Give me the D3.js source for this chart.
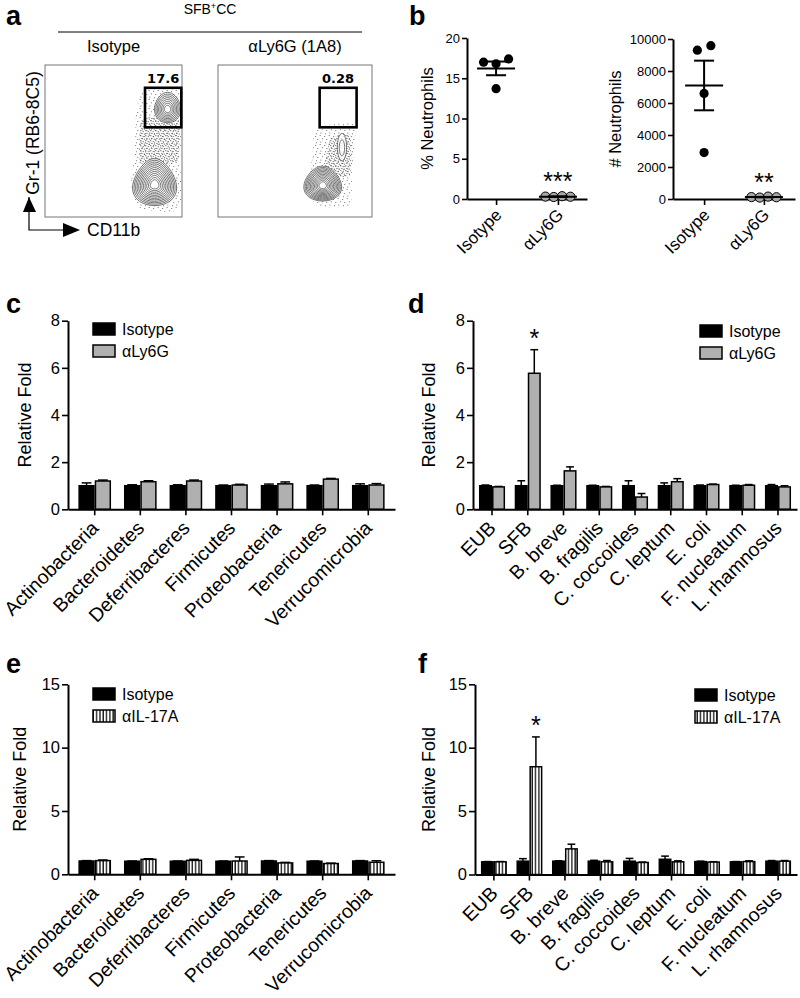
<!DOCTYPE html>
<html><head><meta charset="utf-8">
<script src="https://cdn.jsdelivr.net/npm/d3@7"></script>
<style>
body{margin:0;background:#fff}
svg{display:block}
text{font-family:"Liberation Sans",Arial,Helvetica,sans-serif;fill:#000}
</style>
</head><body>
<svg id="fig" width="800" height="998"></svg>
<script>
// ---------------- DATA ----------------
// panel a (flow cytometry, axis units 0..1)
const flowHeaders = ["Isotype", "αLy6G (1A8)"];
const flowPercents = ["17.6", "0.28"];
const isoClusters = [
  {x:0.80, y:0.23, rx:0.155, ry:0.155, taper:0.28, levels:12},
  {x:0.895, y:0.72, rx:0.095, ry:0.10, taper:0.12, levels:8}
];
const ly6gClusters = [
  {x:0.68, y:0.22, rx:0.12, ry:0.115, taper:0.22, levels:12},
  {x:0.805, y:0.46, rx:0.03, ry:0.09, taper:0, levels:2}
];
const isoScatter = [[0.693,0.803],[0.766,0.849],[0.985,0.849],[1.0,0.572],[0.985,0.375],[1.0,0.112],[0.927,0.033],[0.693,0.059],[0.628,0.21],[0.657,0.441],[0.664,0.671]];
const isoDense = [[0.708,0.638],[0.971,0.651],[0.971,0.375],[0.839,0.342],[0.693,0.362]];
const ly6gScatter = [[0.636,0.586],[0.89,0.612],[0.87,0.309],[0.857,0.079],[0.649,0.072],[0.565,0.211],[0.61,0.375]];
const ly6gDense = [[0.727,0.507],[0.857,0.539],[0.857,0.276],[0.695,0.276]];
const isoGate = [0.73, 0.995, 0.59, 0.85];
const ly6gGate = [0.66, 0.90, 0.59, 0.85];

// panel b
const bGroups = ["Isotype", "αLy6G"];
const pctIsotype = [17.0, 16.8, 17.4, 13.7];
const pctLy6G = [0.30, 0.25, 0.35, 0.28];
const numIsotype = [9300, 9580, 6600, 2900];
const numLy6G = [120, 90, 150, 110];
const pctTicks = [0, 5, 10, 15, 20];
const numTicks = [0, 2000, 4000, 6000, 8000, 10000];

// panels c-f
const phyla = ["Actinobacteria","Bacteroidetes","Deferribacteres","Firmicutes","Proteobacteria","Tenericutes","Verrucomicrobia"];
const species = ["EUB","SFB","B. breve","B. fragilis","C. coccoides","C. leptum","E. coli","F. nucleatum","L. rhamnosus"];
const foldTicks8 = [0, 2, 4, 6, 8];
const foldTicks15 = [0, 5, 10, 15];

const cIso    = [1.00, 1.00, 1.00, 1.00, 1.00, 1.00, 1.00];
const cIsoErr = [0.12, 0.04, 0.04, 0.03, 0.07, 0.03, 0.08];
const cLy6G   = [1.20, 1.17, 1.20, 1.03, 1.08, 1.28, 1.03];
const cLy6GErr= [0.04, 0.04, 0.04, 0.03, 0.08, 0.03, 0.06];

const dIso    = [1.00, 1.00, 1.00, 1.00, 1.00, 1.00, 1.00, 1.00, 1.00];
const dIsoErr = [0.03, 0.21, 0.02, 0.02, 0.21, 0.12, 0.03, 0.02, 0.05];
const dLy6G   = [0.95, 5.77, 1.63, 0.95, 0.52, 1.17, 1.05, 1.02, 0.95];
const dLy6GErr= [0.02, 1.00, 0.17, 0.02, 0.15, 0.13, 0.02, 0.03, 0.05];
const dStars  = ["SFB"];

const eIso    = [1.05, 1.03, 1.03, 1.03, 1.05, 1.03, 1.05];
const eIsoErr = [0.03, 0.02, 0.02, 0.02, 0.03, 0.02, 0.03];
const eIL17   = [1.08, 1.18, 1.10, 1.05, 0.90, 0.85, 0.95];
const eIL17Err= [0.05, 0.05, 0.08, 0.32, 0.04, 0.03, 0.12];

const fIso    = [1.00, 1.05, 1.05, 1.05, 1.05, 1.20, 1.02, 1.00, 1.05];
const fIsoErr = [0.02, 0.20, 0.03, 0.07, 0.22, 0.25, 0.03, 0.02, 0.05];
const fIL17   = [1.00, 8.50, 2.02, 1.00, 0.95, 1.00, 0.98, 1.02, 1.05];
const fIL17Err= [0.02, 2.35, 0.37, 0.10, 0.03, 0.08, 0.03, 0.06, 0.05];
const fStars  = ["SFB"];

// ---------------- DRAWING ----------------
const svg = d3.select("#fig");
const defs = svg.append("defs");
const FONT = '"Liberation Sans",Arial,Helvetica,sans-serif';

// vertical stripe pattern
const sp = defs.append("pattern").attr("id","stripes").attr("patternUnits","userSpaceOnUse")
  .attr("width",3.3).attr("height",8);
sp.append("rect").attr("width",3.3).attr("height",8).attr("fill","#fff");
sp.append("rect").attr("x",0.3).attr("width",1.3).attr("height",8).attr("fill","#111");

// stipple patterns for flow events
function stipple(id, size, pts, r, col) {
  const p = defs.append("pattern").attr("id",id).attr("patternUnits","userSpaceOnUse")
    .attr("width",size).attr("height",size);
  p.selectAll("circle").data(pts).join("circle")
    .attr("cx",d=>d[0]).attr("cy",d=>d[1]).attr("r",r).attr("fill",col);
}
stipple("dots", 9, [[0.7,1.4],[5.1,0.6],[2.8,4.6],[7.3,3.8],[1.4,7.7],[5.9,6.9]], 0.5, "#333");
stipple("dots2", 5, [[0.8,0.7],[3.2,1.6],[1.9,3.4],[4.3,4.1]], 0.6, "#1a1a1a");

function letter(t, x, y) {
  svg.append("text").attr("x",x).attr("y",y).attr("font-size",27).attr("font-weight","bold").text(t);
}

// ---------- panel a ----------
letter("a", 6, 25);
const hdr = svg.append("text").attr("x",210).attr("y",14).attr("text-anchor","middle").attr("font-size",14);
hdr.append("tspan").text("SFB");
hdr.append("tspan").attr("font-size",9).attr("baseline-shift","super").text("+");
hdr.append("tspan").text("CC");
svg.append("line").attr("x1",58).attr("x2",362).attr("y1",32).attr("y2",32).attr("stroke","#000").attr("stroke-width",1);

function blobPath(cx, cy, rx, ry, taper) {
  const pts = d3.range(36).map(i => {
    const t = i / 36 * 2 * Math.PI;
    return [cx + rx * Math.cos(t) * (1 + taper * Math.sin(t)), cy + ry * Math.sin(t)];
  });
  return d3.line().curve(d3.curveCardinalClosed)(pts);
}

let clipN = 0;
function flowPlot(x0, x1, y0, y1, header, pct, clusters, scatter, dense, gate) {
  const g = svg.append("g");
  const sx = d3.scaleLinear().domain([0,1]).range([x0, x1]);
  const sy = d3.scaleLinear().domain([0,1]).range([y1, y0]);
  const cid = "clip" + (clipN++);
  defs.append("clipPath").attr("id",cid).append("rect").attr("x",x0+1).attr("y",y0+1).attr("width",x1-x0-2).attr("height",y1-y0-2);
  g.append("text").attr("x",(x0+x1)/2).attr("y",52).attr("text-anchor","middle").attr("font-size",16.5).text(header);
  g.append("rect").attr("x",x0).attr("y",y0).attr("width",x1-x0).attr("height",y1-y0)
    .attr("fill","#fff").attr("stroke","#777").attr("stroke-width",1);
  const inner = g.append("g").attr("clip-path",`url(#${cid})`);
  const poly = d3.line().x(d=>sx(d[0])).y(d=>sy(d[1])).curve(d3.curveCardinalClosed.tension(0.5));
  inner.append("path").attr("d",poly(scatter)).attr("fill","url(#dots)").attr("opacity",0.9);
  inner.append("path").attr("d",poly(dense)).attr("fill","url(#dots2)").attr("opacity",0.75);
  clusters.forEach(c => {
    const cx = sx(c.x), cy = sy(c.y), rx = c.rx * (x1 - x0), ry = c.ry * (y1 - y0);
    inner.append("path").attr("d", blobPath(cx, cy, rx, ry, c.taper)).attr("fill","#fff").attr("opacity",0.85);
    d3.range(c.levels, 0, -1).forEach(k => {
      const s = 0.1 + 0.9 * Math.pow(k / c.levels, 0.9);
      inner.append("path").attr("d", blobPath(cx, cy + (1 - s) * ry * 0.12, rx * s, ry * s, c.taper))
        .attr("fill","none").attr("stroke","#3a3a3a").attr("stroke-width",0.7);
    });
  });
  g.append("rect").attr("x",sx(gate[0])).attr("y",sy(gate[3]))
    .attr("width",sx(gate[1])-sx(gate[0])).attr("height",sy(gate[2])-sy(gate[3]))
    .attr("fill","none").attr("stroke","#000").attr("stroke-width",2.6);
  g.append("text").attr("x",(sx(gate[0])+sx(gate[1]))/2).attr("y",sy(gate[3])-5)
    .attr("text-anchor","middle").attr("font-size",13).attr("font-weight","bold")
    .style("font-family",'"DejaVu Sans",Verdana,sans-serif').text(pct);
}
flowPlot(45, 182, 65, 217, flowHeaders[0], flowPercents[0], isoClusters, isoScatter, isoDense, isoGate);
flowPlot(218, 372, 65, 217, flowHeaders[1], flowPercents[1], ly6gClusters, ly6gScatter, ly6gDense, ly6gGate);

// axis arrows
svg.append("text").attr("transform","translate(39,133) rotate(-90)").attr("text-anchor","middle").attr("font-size",17.5).text("Gr-1 (RB6-8C5)");
svg.append("path").attr("d","M29,197 L29,230 L66,230").attr("fill","none").attr("stroke","#000").attr("stroke-width",1.2);
svg.append("path").attr("d","M23,212 L29,197 L36,212 Z").attr("fill","#000");
svg.append("path").attr("d","M63,223 L80,230 L63,237 Z").attr("fill","#000");
svg.append("text").attr("x",87).attr("y",236).attr("font-size",17.5).text("CD11b");

// ---------- panel b ----------
letter("b", 409, 25);

function styleAxis(ax, fs) {
  ax.select(".domain").attr("stroke","#000").attr("stroke-width",2);
  ax.selectAll(".tick line").attr("stroke","#000").attr("stroke-width",1.6);
  ax.selectAll(".tick text").attr("fill","#000").attr("font-size",fs).style("font-family",FONT);
}

function dotPlot(o) {
  const g = svg.append("g");
  const x = d3.scalePoint().domain(bGroups).range([o.x0, o.x1]).padding(o.pad);
  const y = d3.scaleLinear().domain([0, o.max]).range([o.y0, o.yTop]);
  const ya = g.append("g").attr("transform",`translate(${o.x0},0)`)
    .call(d3.axisLeft(y).tickValues(o.ticks).tickSize(5).tickSizeOuter(0).tickPadding(2).tickFormat(d3.format("d")));
  styleAxis(ya, 13);
  const xa = g.append("g").attr("transform",`translate(0,${o.y0})`)
    .call(d3.axisBottom(x).tickSize(6).tickSizeOuter(0));
  styleAxis(xa, 17);
  xa.selectAll(".tick text").attr("y",0).attr("dy",0).attr("text-anchor","end")
    .attr("transform","translate(6,17) rotate(-45)");
  g.append("text").attr("transform",`translate(${o.labelX},${(o.y0+o.yTop)/2}) rotate(-90)`)
    .attr("text-anchor","middle").attr("font-size",16.5).text(o.label);
  const r = 4.6;
  o.series.forEach((vals, gi) => {
    const cx = x(bGroups[gi]);
    const pts = vals.map((v,i)=>({v, i, py: y(v)}));
    const sorted = pts.slice().sort((a,b)=>a.py-b.py);
    const clusters = [];
    sorted.forEach(p => {
      const last = clusters[clusters.length-1];
      if (last && Math.abs(p.py - last[last.length-1].py) < 2*r) last.push(p); else clusters.push([p]);
    });
    clusters.forEach(cl => {
      cl.sort((a,b)=>a.i-b.i);
      const k = cl.length, sp = k > 1 ? Math.min(13.5, 25/(k-1)) : 0;
      cl.forEach((p,j)=>{ p.px = cx + (j - (k-1)/2) * sp; });
    });
    g.selectAll(null).data(pts).join("circle")
      .attr("cx",d=>d.px).attr("cy",d=>d.py).attr("r",r)
      .attr("fill", gi === 0 ? "#000" : "#a8a8a8").attr("stroke","#000").attr("stroke-width", gi===0?0:1);
    const m = d3.mean(vals), sem = d3.deviation(vals) / Math.sqrt(vals.length);
    g.append("line").attr("x1",cx-19).attr("x2",cx+19).attr("y1",y(m)).attr("y2",y(m)).attr("stroke","#000").attr("stroke-width",2);
    g.append("line").attr("x1",cx).attr("x2",cx).attr("y1",y(m-sem)).attr("y2",y(m+sem)).attr("stroke","#000").attr("stroke-width",2);
    [m-sem, m+sem].forEach(v => g.append("line").attr("x1",cx-10).attr("x2",cx+10).attr("y1",y(v)).attr("y2",y(v)).attr("stroke","#000").attr("stroke-width",2));
    if (gi === 1) {
      g.append("text").attr("x",cx).attr("y",y(d3.max(vals))-6).attr("text-anchor","middle")
        .attr("font-size",25).text(o.star);
    }
  });
}
dotPlot({x0:467, x1:587, y0:199, yTop:38, max:20, ticks:pctTicks, pad:0.47, series:[pctIsotype, pctLy6G], label:"% Neutrophils", labelX:433, star:"***"});
dotPlot({x0:673, x1:795, y0:199, yTop:39, max:10000, ticks:numTicks, pad:0.52, series:[numIsotype, numLy6G], label:"# Neutrophils", labelX:621, star:"**"});

// ---------- bar charts ----------
function barChart(o) {
  const g = svg.append("g");
  const x = d3.scaleBand().domain(o.cats).range([o.x0, o.x1]).paddingInner(o.pi).paddingOuter(o.po);
  const xs = d3.scaleBand().domain(["iso","trt"]).range([0, x.bandwidth()]);
  const y = d3.scaleLinear().domain([0, o.max]).range([o.y0, o.yTop]);
  const recs = [];
  o.cats.forEach((c,i) => {
    recs.push({c, k:"iso", v:o.iso[i], e:o.isoErr[i], fill:"#000"});
    recs.push({c, k:"trt", v:o.trt[i], e:o.trtErr[i], fill:o.trtFill});
  });
  const bw = xs.bandwidth();
  const cx = d => x(d.c) + xs(d.k) + bw/2;
  g.selectAll(null).data(recs).join("line")
    .attr("x1",cx).attr("x2",cx).attr("y1",d=>y(d.v)).attr("y2",d=>y(d.v+d.e))
    .attr("stroke","#000").attr("stroke-width",1.5);
  g.selectAll(null).data(recs).join("line")
    .attr("x1",d=>cx(d)-bw*0.3).attr("x2",d=>cx(d)+bw*0.3).attr("y1",d=>y(d.v+d.e)).attr("y2",d=>y(d.v+d.e))
    .attr("stroke","#000").attr("stroke-width",1.5);
  g.selectAll(null).data(recs).join("rect")
    .attr("x",d=>x(d.c)+xs(d.k)+0.75).attr("y",d=>y(d.v)).attr("width",bw-1.5).attr("height",d=>o.y0-y(d.v))
    .attr("fill",d=>d.fill).attr("stroke","#000").attr("stroke-width",1.5);
  const ya = g.append("g").attr("transform",`translate(${o.x0},0)`)
    .call(d3.axisLeft(y).tickValues(o.ticks).tickSize(6).tickSizeOuter(0).tickPadding(2));
  styleAxis(ya, 16.5);
  const xa = g.append("g").attr("transform",`translate(0,${o.y0})`)
    .call(d3.axisBottom(x).tickSize(6).tickSizeOuter(0));
  styleAxis(xa, 19.5);
  xa.selectAll(".tick text").attr("y",0).attr("dy",0).attr("text-anchor","end")
    .attr("transform","translate(5,20) rotate(-45)");
  g.append("text").attr("transform",`translate(${o.labelX},${(o.y0+o.yTop)/2}) rotate(-90)`)
    .attr("text-anchor","middle").attr("font-size",18).text("Relative Fold");
  // legend
  const leg = [["Isotype","#000"],[o.trtLabel,o.trtFill]];
  leg.forEach((l,i) => {
    g.append("rect").attr("x",o.legX).attr("y",o.legY+i*22).attr("width",22).attr("height",12)
      .attr("fill",l[1]).attr("stroke","#000").attr("stroke-width",1.5);
    g.append("text").attr("x",o.legX+29).attr("y",o.legY+i*22+12).attr("font-size",16).text(l[0]);
  });
  // stars
  (o.stars||[]).forEach(s => {
    const i = o.cats.indexOf(s);
    g.append("text").attr("x",x(s)+xs("trt")+bw/2).attr("y",y(o.trt[i]+o.trtErr[i])-3)
      .attr("text-anchor","middle").attr("font-size",25).text("*");
  });
}

letter("c", 6, 313);
barChart({x0:68, x1:395, y0:509.3, yTop:320.7, max:8, ticks:foldTicks8, cats:phyla, pi:0.284, po:0.228,
  iso:cIso, isoErr:cIsoErr, trt:cLy6G, trtErr:cLy6GErr, trtFill:"#b0b0b0", trtLabel:"αLy6G",
  labelX:31, legX:93, legY:323});

letter("d", 408, 313);
barChart({x0:473, x1:797, y0:509.3, yTop:320.7, max:8, ticks:foldTicks8, cats:species, pi:0.27, po:0.167,
  iso:dIso, isoErr:dIsoErr, trt:dLy6G, trtErr:dLy6GErr, trtFill:"#b0b0b0", trtLabel:"αLy6G",
  labelX:435, legX:700, legY:325, stars:dStars});

letter("e", 6, 673);
barChart({x0:68, x1:395, y0:874.3, yTop:684.3, max:15, ticks:foldTicks15, cats:phyla, pi:0.284, po:0.228,
  iso:eIso, isoErr:eIsoErr, trt:eIL17, trtErr:eIL17Err, trtFill:"url(#stripes)", trtLabel:"αIL-17A",
  labelX:26, legX:93, legY:688});

letter("f", 418, 673);
barChart({x0:475, x1:797, y0:874.5, yTop:684.3, max:15, ticks:foldTicks15, cats:species, pi:0.27, po:0.167,
  iso:fIso, isoErr:fIsoErr, trt:fIL17, trtErr:fIL17Err, trtFill:"url(#stripes)", trtLabel:"αIL-17A",
  labelX:435, legX:695, legY:689, stars:fStars});
</script>
</body></html>
